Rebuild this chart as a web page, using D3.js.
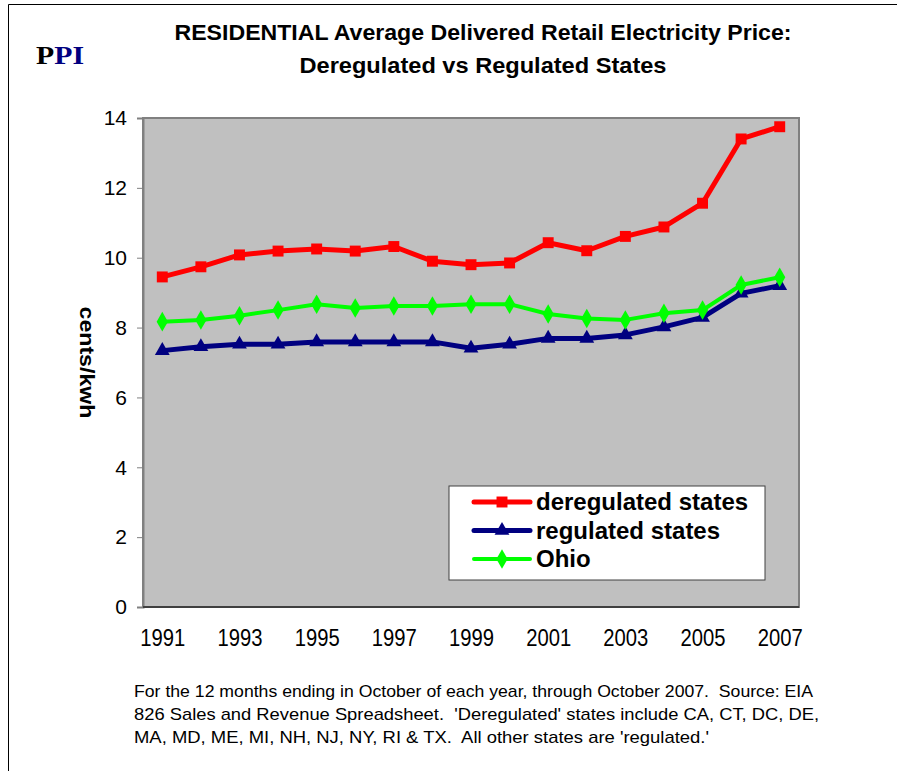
<!DOCTYPE html>
<html>
<head>
<meta charset="utf-8">
<script src="https://cdn.jsdelivr.net/npm/d3@7"></script>
<style>
  body { margin: 0; background: #fff; }
  svg { display: block; }
</style>
</head>
<body>
<svg width="897" height="771"></svg>
<script>
let years = [1991, 1992, 1993, 1994, 1995, 1996, 1997, 1998, 1999, 2000, 2001, 2002, 2003, 2004, 2005, 2006, 2007];
let deregulated = [9.45, 9.74, 10.08, 10.19, 10.25, 10.19, 10.32, 9.9, 9.8, 9.85, 10.43, 10.2, 10.61, 10.88, 11.56, 13.4, 13.75];
let regulated = [7.34, 7.45, 7.52, 7.52, 7.59, 7.59, 7.59, 7.59, 7.41, 7.52, 7.69, 7.69, 7.79, 8.02, 8.29, 8.98, 9.2];
let ohio = [8.17, 8.22, 8.34, 8.5, 8.67, 8.56, 8.62, 8.62, 8.67, 8.67, 8.39, 8.26, 8.22, 8.41, 8.5, 9.22, 9.44];
let yTicks = [0, 2, 4, 6, 8, 10, 12, 14];
let xTickYears = [1991, 1993, 1995, 1997, 1999, 2001, 2003, 2005, 2007];

let series = [
  { name: "deregulated states", values: deregulated, color: "#FF0000", width: 5, symbol: d3.symbolSquare, size: 120 },
  { name: "regulated states", values: regulated, color: "#000080", width: 5, symbol: d3.symbolTriangle, size: 95 },
  { name: "Ohio", values: ohio, color: "#00FF00", width: 4, symbol: d3.symbolDiamond, size: 110 }
];

let font = "'Liberation Sans', Arial, sans-serif";

let svg = d3.select("svg");

// outer frame (cut off on right / bottom)
svg.append("path")
  .attr("d", "M8.5,771 V4.5 H897")
  .attr("fill", "none")
  .attr("stroke", "#000")
  .attr("stroke-width", 1);

// logo
let logo = svg.append("text")
  .attr("x", 36).attr("y", 64)
  .attr("font-family", "'Liberation Serif', 'DejaVu Serif', serif")
  .attr("font-weight", "bold")
  .attr("font-size", 26)
  .attr("textLength", 48).attr("lengthAdjust", "spacingAndGlyphs");
logo.append("tspan").attr("fill", "#000").text("P");
logo.append("tspan").attr("fill", "#000080").text("PI");

// title
svg.append("text")
  .attr("x", 483).attr("y", 40)
  .attr("text-anchor", "middle")
  .attr("font-family", font).attr("font-weight", "bold").attr("font-size", 22)
  .attr("textLength", 617).attr("lengthAdjust", "spacingAndGlyphs")
  .text("RESIDENTIAL Average Delivered Retail Electricity Price:");
svg.append("text")
  .attr("x", 483).attr("y", 73)
  .attr("text-anchor", "middle")
  .attr("font-family", font).attr("font-weight", "bold").attr("font-size", 22)
  .attr("textLength", 367).attr("lengthAdjust", "spacingAndGlyphs")
  .text("Deregulated vs Regulated States");

let plot = { left: 143, top: 118, right: 799, bottom: 607 };

let xScale = d3.scalePoint()
  .domain(years)
  .range([plot.left, plot.right])
  .padding(0.5);

let yScale = d3.scaleLinear()
  .domain([0, 14])
  .range([plot.bottom, plot.top]);

// plot background
svg.append("rect")
  .attr("x", plot.left).attr("y", plot.top)
  .attr("width", plot.right - plot.left).attr("height", plot.bottom - plot.top)
  .attr("fill", "#C0C0C0")
  .attr("stroke", "#808080")
  .attr("stroke-width", 2);

// y axis
let yAxis = d3.axisLeft(yScale).tickValues(yTicks).tickSize(6).tickPadding(10);
let yg = svg.append("g")
  .attr("transform", "translate(" + plot.left + ",0)")
  .call(yAxis);
yg.select(".domain").attr("stroke", "#808080").attr("stroke-width", 2);
yg.selectAll(".tick line").attr("stroke", "#808080");
yg.selectAll(".tick text")
  .attr("font-family", font).attr("font-size", 21).attr("fill", "#000");

// x axis
let xAxis = d3.axisBottom(xScale).tickValues(xTickYears).tickSize(0).tickPadding(23);
let xg = svg.append("g")
  .attr("transform", "translate(0," + plot.bottom + ")")
  .call(xAxis);
xg.select(".domain").attr("stroke", "#404040").attr("stroke-width", 2)
  .attr("d", "M" + plot.left + ",0H" + plot.right);
xg.selectAll(".tick text")
  .attr("font-family", font).attr("font-size", 23).attr("fill", "#000")
  .attr("textLength", 45).attr("lengthAdjust", "spacingAndGlyphs");

// y axis title
svg.append("text")
  .attr("transform", "translate(80," + ((plot.top + plot.bottom) / 2) + ") rotate(90)")
  .attr("text-anchor", "middle")
  .attr("font-family", font).attr("font-weight", "bold").attr("font-size", 21)
  .attr("textLength", 112).attr("lengthAdjust", "spacingAndGlyphs")
  .text("cents/kwh");

// lines and markers
let line = d3.line()
  .x((d, i) => xScale(years[i]))
  .y(d => yScale(d));

series.forEach(s => {
  svg.append("path")
    .datum(s.values)
    .attr("fill", "none")
    .attr("stroke", s.color)
    .attr("stroke-width", s.width)
    .attr("stroke-linejoin", "round")
    .attr("d", line);
  svg.append("g")
    .selectAll("path")
    .data(s.values)
    .join("path")
    .attr("transform", (d, i) => "translate(" + xScale(years[i]) + "," + yScale(d) + ")")
    .attr("d", d3.symbol().type(s.symbol).size(s.size))
    .attr("fill", s.color);
});

// legend
let legend = svg.append("g").attr("transform", "translate(449,486)");
legend.append("rect")
  .attr("x", 0).attr("y", 0).attr("width", 316).attr("height", 94)
  .attr("fill", "#fff").attr("stroke", "#404040").attr("stroke-width", 1);
series.forEach((s, i) => {
  let cy = 16 + i * 28.5;
  legend.append("line")
    .attr("x1", 25).attr("x2", 81).attr("y1", cy).attr("y2", cy)
    .attr("stroke", s.color).attr("stroke-width", s.width)
    .attr("stroke-linecap", "round");
  legend.append("path")
    .attr("transform", "translate(53," + cy + ")")
    .attr("d", d3.symbol().type(s.symbol).size(s.size))
    .attr("fill", s.color);
  legend.append("text")
    .attr("x", 87).attr("y", cy + 8)
    .attr("font-family", font).attr("font-weight", "bold").attr("font-size", 24)
    .text(s.name);
});

// footnote
let notes = [
  ["For the 12 months ending in October of each year, through October 2007.  Source: EIA", 679],
  ["826 Sales and Revenue Spreadsheet.  'Deregulated' states include CA, CT, DC, DE,", 685],
  ["MA, MD, ME, MI, NH, NJ, NY, RI & TX.  All other states are 'regulated.'", 575]
];
notes.forEach((n, i) => {
  svg.append("text")
    .attr("x", 134).attr("y", 697 + i * 23)
    .attr("font-family", font).attr("font-size", 17)
    .attr("textLength", n[1]).attr("lengthAdjust", "spacingAndGlyphs")
    .attr("xml:space", "preserve")
    .text(n[0]);
});
</script>
</body>
</html>
